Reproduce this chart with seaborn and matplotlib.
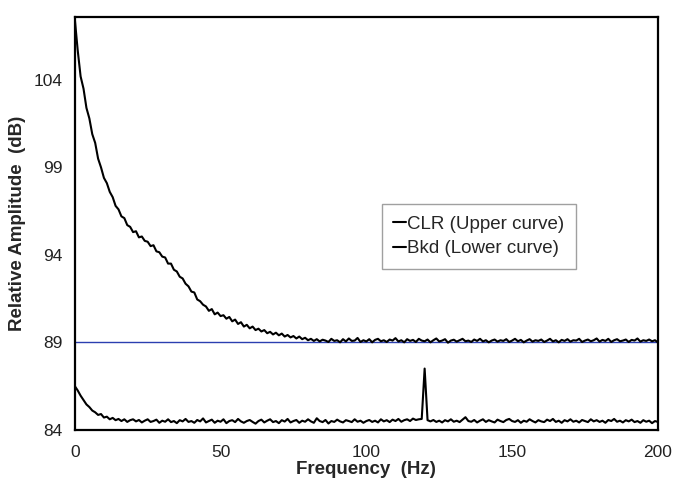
import numpy as np
import pandas as pd
import matplotlib
matplotlib.use("Agg")
import matplotlib.pyplot as plt
import seaborn as sns
from matplotlib.lines import Line2D

freq = list(range(0, 201))

clr_upper = [
    107.5, 105.7, 104.2, 103.5, 102.4, 101.8, 100.9, 100.4, 99.5, 99.0,
    98.4, 98.1, 97.6, 97.3, 96.8, 96.6, 96.2, 96.1, 95.7, 95.6,
    95.3, 95.35, 95.0, 95.05, 94.8, 94.75, 94.5, 94.55, 94.2, 94.15,
    93.9, 93.85, 93.5, 93.5, 93.15, 93.05, 92.75, 92.65, 92.35, 92.2,
    91.9, 91.85, 91.45, 91.35, 91.15, 91.05, 90.8, 90.9, 90.6, 90.7,
    90.5, 90.55, 90.35, 90.45, 90.2, 90.3, 90.05, 90.15, 89.9, 90.0,
    89.8, 89.9, 89.7, 89.78, 89.62, 89.7, 89.52, 89.6, 89.45, 89.55,
    89.4, 89.5, 89.33, 89.42, 89.28, 89.36, 89.22, 89.33, 89.18, 89.26,
    89.12, 89.2, 89.08, 89.18, 89.05, 89.15, 89.1, 89.02, 89.2, 89.08,
    89.12, 89.0, 89.18, 89.05, 89.22, 89.08, 89.1, 89.25, 89.02, 89.12,
    89.05, 89.18, 89.0, 89.14, 89.2, 89.06, 89.12, 89.02, 89.16, 89.1,
    89.24, 89.05, 89.12, 89.0, 89.18, 89.08, 89.14, 89.02, 89.2, 89.1,
    89.06, 89.16, 89.0, 89.12, 89.22, 89.05, 89.1, 89.18, 88.98, 89.1,
    89.15, 89.04, 89.12, 89.2, 89.06, 89.1, 89.02, 89.16, 89.08, 89.2,
    89.05, 89.12, 89.0, 89.1, 89.16, 89.04, 89.12, 89.08, 89.18, 89.02,
    89.1, 89.2, 89.06, 89.14, 89.0, 89.1, 89.18, 89.04, 89.12, 89.08,
    89.16, 89.02, 89.1, 89.2, 89.05, 89.12, 89.0, 89.14, 89.08, 89.18,
    89.04, 89.12, 89.1, 89.2, 89.02, 89.1, 89.16, 89.06, 89.12, 89.22,
    89.04, 89.14, 89.08, 89.2, 89.02, 89.12, 89.18, 89.06, 89.1, 89.16,
    89.02, 89.14, 89.1, 89.22, 89.04, 89.12, 89.08, 89.16, 89.06, 89.12,
    89.0,
]

bkd_lower = [
    86.5, 86.25, 85.95, 85.7, 85.45, 85.3, 85.1, 85.0, 84.85, 84.9,
    84.7, 84.75, 84.6, 84.68, 84.55, 84.62, 84.5, 84.6, 84.45, 84.55,
    84.6, 84.48, 84.56, 84.42, 84.52, 84.6, 84.45, 84.5, 84.58, 84.4,
    84.52, 84.46, 84.6, 84.44, 84.5, 84.38, 84.55, 84.48, 84.62, 84.45,
    84.5, 84.4, 84.56, 84.48, 84.65, 84.42, 84.5, 84.58, 84.4, 84.52,
    84.46, 84.6, 84.38, 84.5, 84.55, 84.44, 84.62, 84.48, 84.4, 84.5,
    84.56, 84.45, 84.35, 84.5, 84.58, 84.42, 84.52, 84.6, 84.44, 84.5,
    84.38, 84.55, 84.47, 84.62, 84.42, 84.5, 84.56, 84.4, 84.52, 84.46,
    84.6, 84.48, 84.4, 84.66, 84.5, 84.44, 84.56, 84.36, 84.5, 84.45,
    84.58, 84.48, 84.42, 84.55, 84.5, 84.44, 84.6, 84.46, 84.52, 84.4,
    84.5, 84.56, 84.45, 84.52, 84.42, 84.6, 84.48, 84.55, 84.44, 84.58,
    84.5, 84.62, 84.46, 84.55, 84.6, 84.5, 84.64, 84.56, 84.6, 84.62,
    87.5, 84.55, 84.48, 84.56, 84.45, 84.52, 84.42, 84.55, 84.48, 84.6,
    84.46, 84.52, 84.44, 84.58, 84.72, 84.5, 84.46, 84.56, 84.42, 84.52,
    84.6, 84.45, 84.55, 84.48, 84.42, 84.58, 84.5, 84.44, 84.56, 84.62,
    84.5, 84.45, 84.55, 84.4, 84.52, 84.46, 84.6, 84.5, 84.42, 84.55,
    84.48, 84.44, 84.58, 84.5, 84.62, 84.45, 84.52, 84.4, 84.55, 84.48,
    84.6, 84.46, 84.52, 84.42, 84.56, 84.5, 84.44, 84.6, 84.48, 84.55,
    84.45, 84.52, 84.4, 84.56, 84.5, 84.62, 84.46, 84.52, 84.42, 84.55,
    84.48, 84.58, 84.44, 84.5, 84.4, 84.55, 84.46, 84.52, 84.38, 84.5,
    84.45,
]

series_names = ["CLR (Upper curve)", "Bkd (Lower curve)"]
x_ticks = [0, 50, 100, 150, 200]
y_ticks = [84, 89, 94, 99, 104]
ref_level = 89

df = pd.concat([
    pd.DataFrame({"Frequency": freq, "Amplitude": clr_upper, "Series": series_names[0]}),
    pd.DataFrame({"Frequency": freq, "Amplitude": bkd_lower, "Series": series_names[1]}),
])

sns.set_style("white")
plt.rcParams["font.family"] = ["Liberation Sans", "DejaVu Sans"]

fig = plt.figure(figsize=(6.86, 4.84), dpi=100)
ax = fig.add_axes([0.109, 0.112, 0.85, 0.853])

ax.axhline(ref_level, color="#2b3fb0", linewidth=1.0, zorder=1)
sns.lineplot(data=df, x="Frequency", y="Amplitude", hue="Series",
             palette=["black", "black"], linewidth=1.5, ax=ax,
             legend=False, zorder=2)

ax.set_xlim(0, 200)
ax.set_ylim(84, 107.6)
ax.set_xticks(x_ticks)
ax.set_yticks(y_ticks)
ax.tick_params(axis="both", direction="out", length=5, width=1,
               color="#777777", labelcolor="#222222", labelsize=12.5, pad=4)
ax.tick_params(axis="x", pad=6)
for s in ax.spines.values():
    s.set_color("black")
    s.set_linewidth(1.6)

ax.set_xlabel("Frequency  (Hz)", fontsize=13.5, fontweight="bold", labelpad=1)
ax.set_ylabel("Relative Amplitude  (dB)", fontsize=13.5, fontweight="bold", labelpad=5)

handles = [Line2D([0], [0], color="black", linewidth=1.5) for _ in series_names]
leg = ax.legend(handles, series_names, loc="upper left",
                bbox_to_anchor=(0.527, 0.546), fontsize=13.5,
                handlelength=0.7, handletextpad=0.05, frameon=True,
                fancybox=False, borderpad=0.6, labelspacing=0.4,
                borderaxespad=0)
leg.get_frame().set_edgecolor("#888888")
leg.get_frame().set_linewidth(1.0)

fig.savefig("out.png", dpi=100)
